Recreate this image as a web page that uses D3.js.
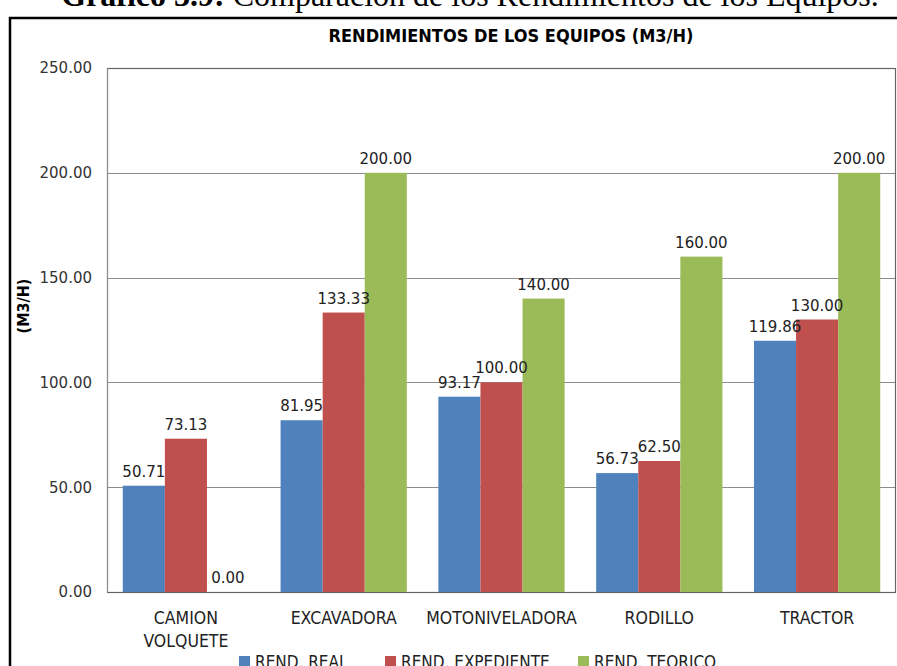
<!DOCTYPE html>
<html>
<head>
<meta charset="utf-8">
<script src="https://cdn.jsdelivr.net/npm/d3@7"></script>
<style>
  body { margin: 0; background: #fff; }
  svg { display: block; }
</style>
</head>
<body>
<div id="chart"></div>
<script>
// Chart data
const categories = ["CAMION VOLQUETE", "EXCAVADORA", "MOTONIVELADORA", "RODILLO", "TRACTOR"];
const seriesNames = ["REND. REAL", "REND. EXPEDIENTE", "REND. TEORICO"];
const rendReal = [50.71, 81.95, 93.17, 56.73, 119.86];
const rendExpediente = [73.13, 133.33, 100.00, 62.50, 130.00];
const rendTeorico = [0.00, 200.00, 140.00, 160.00, 200.00];
const yTicks = [0, 50, 100, 150, 200, 250];

function drawChart() {
    const W = 897, H = 666;
    const plot = {left: 107, top: 68, right: 896, bottom: 592};
    const narrow = "'Liberation Sans Narrow', 'DejaVu Sans Condensed', sans-serif";

    const colors = {
        "REND. REAL": "#4F81BD",
        "REND. EXPEDIENTE": "#C0504D",
        "REND. TEORICO": "#9BBB59"
    };

    const svg = d3.select("#chart")
        .append("svg")
        .attr("width", W)
        .attr("height", H);

    // Document caption (cut off at the top)
    const cap = svg.append("text")
        .attr("x", 470)
        .attr("y", 6)
        .attr("text-anchor", "middle")
        .style("font-family", "'Liberation Serif', 'DejaVu Serif', serif")
        .style("font-size", "32px")
        .style("fill", "#000");
    cap.append("tspan").style("font-weight", "bold").text("Gráfico 3.9:");
    cap.append("tspan").text(" Comparación de los Rendimientos de los Equipos.");

    // Outer chart frame
    svg.append("rect")
        .attr("x", 10)
        .attr("y", 18)
        .attr("width", 920)
        .attr("height", 700)
        .attr("fill", "none")
        .attr("stroke", "#000")
        .attr("stroke-width", 2.5);

    // Title
    svg.append("text")
        .attr("x", 511)
        .attr("y", 42)
        .attr("text-anchor", "middle")
        .style("font-family", narrow)
        .style("font-size", "18px")
        .style("font-weight", "bold")
        .style("fill", "#000")
        .text("RENDIMIENTOS DE LOS EQUIPOS (M3/H)");

    // Scales
    const y = d3.scaleLinear()
        .domain([0, 250])
        .range([plot.bottom, plot.top]);

    const x0 = d3.scaleBand()
        .domain(categories)
        .range([plot.left, plot.right])
        .paddingInner(0.2)
        .paddingOuter(0.1);

    const x1 = d3.scaleBand()
        .domain(seriesNames)
        .range([0, x0.bandwidth()])
        .padding(0);

    // Gridlines
    svg.append("g")
        .selectAll("line")
        .data(yTicks)
        .enter()
        .append("line")
        .attr("x1", plot.left)
        .attr("x2", plot.right)
        .attr("y1", d => Math.round(y(d)) + 0.5)
        .attr("y2", d => Math.round(y(d)) + 0.5)
        .attr("stroke", "#8c8c8c")
        .attr("stroke-width", 1);

    // Plot border
    svg.append("rect")
        .attr("x", plot.left + 0.5)
        .attr("y", plot.top + 0.5)
        .attr("width", plot.right - plot.left - 1)
        .attr("height", plot.bottom - plot.top)
        .attr("fill", "none")
        .attr("stroke", "#666")
        .attr("stroke-width", 1.2);

    // Y axis
    const yAxis = svg.append("g")
        .attr("transform", `translate(${plot.left},0)`)
        .call(d3.axisLeft(y).tickValues(yTicks).tickSize(0).tickPadding(15).tickFormat(d3.format(".2f")));
    yAxis.select(".domain").attr("stroke", "#8c8c8c");
    yAxis.selectAll("text")
        .style("font-family", "'DejaVu Sans', sans-serif")
        .style("font-size", "15px")
        .style("fill", "#333");

    // Y axis label
    svg.append("text")
        .attr("transform", "rotate(-90)")
        .attr("x", -306)
        .attr("y", 29)
        .attr("text-anchor", "middle")
        .style("font-family", narrow)
        .style("font-size", "16px")
        .style("font-weight", "bold")
        .style("fill", "#000")
        .text("(M3/H)");

    // Bars
    const rows = categories.map((c, i) => ({
        category: c,
        values: [
            {series: seriesNames[0], value: rendReal[i]},
            {series: seriesNames[1], value: rendExpediente[i]},
            {series: seriesNames[2], value: rendTeorico[i]}
        ]
    }));

    const groups = svg.selectAll(".cat")
        .data(rows)
        .enter()
        .append("g")
        .attr("class", "cat")
        .attr("transform", d => `translate(${x0(d.category)},0)`);

    groups.selectAll("rect")
        .data(d => d.values)
        .enter()
        .append("rect")
        .attr("x", d => x1(d.series))
        .attr("y", d => y(d.value))
        .attr("width", x1.bandwidth())
        .attr("height", d => plot.bottom - y(d.value))
        .attr("fill", d => colors[d.series]);

    // Data labels
    groups.selectAll(".lbl")
        .data(d => d.values)
        .enter()
        .append("text")
        .attr("class", "lbl")
        .attr("x", d => x1(d.series) + x1.bandwidth() / 2)
        .attr("y", d => y(d.value) - 9)
        .attr("text-anchor", "middle")
        .style("font-family", "'DejaVu Sans', sans-serif")
        .style("font-size", "15px")
        .style("fill", "#222")
        .text(d => d3.format(".2f")(d.value));

    // Category labels
    const catLabels = svg.append("g")
        .selectAll("text")
        .data(categories)
        .enter()
        .append("text")
        .attr("x", d => x0(d) + x0.bandwidth() / 2)
        .attr("y", 624)
        .attr("text-anchor", "middle")
        .style("font-family", narrow)
        .style("font-size", "17.5px")
        .style("fill", "#222");
    catLabels.each(function(d) {
        const words = d === "CAMION VOLQUETE" ? ["CAMION", "VOLQUETE"] : [d];
        const t = d3.select(this);
        words.forEach((w, i) => {
            t.append("tspan")
                .attr("x", x0(d) + x0.bandwidth() / 2)
                .attr("dy", i === 0 ? 0 : 23)
                .text(w);
        });
    });

    // Legend (cut off by the bottom edge, as in the source)
    const legendX = [239, 385, 578];
    const legend = svg.append("g")
        .selectAll("g")
        .data(seriesNames)
        .enter()
        .append("g")
        .attr("transform", (d, i) => `translate(${legendX[i]},656)`);

    legend.append("rect")
        .attr("x", 0)
        .attr("y", 0)
        .attr("width", 11)
        .attr("height", 11)
        .attr("fill", d => colors[d]);

    legend.append("text")
        .attr("x", 16)
        .attr("y", 12)
        .style("font-family", narrow)
        .style("font-size", "17px")
        .style("fill", "#222")
        .text(d => d);
}

drawChart();
</script>
</body>
</html>
